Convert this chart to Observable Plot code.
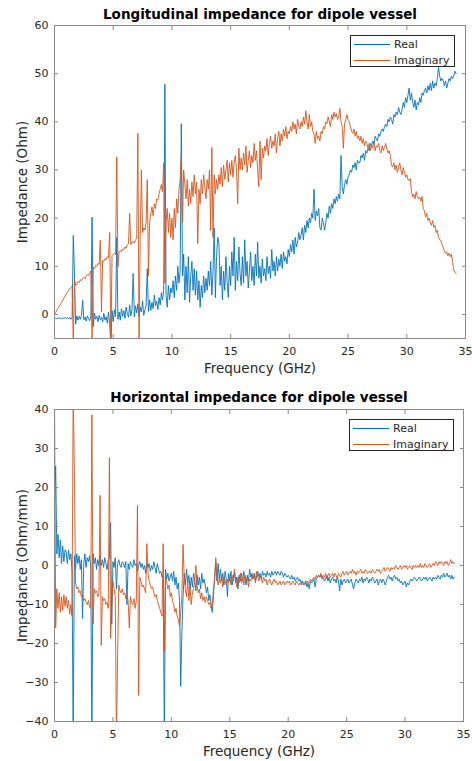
<!DOCTYPE html>
<html><head><meta charset="utf-8">
<script src="https://cdn.jsdelivr.net/npm/d3@7"></script>
<script src="https://cdn.jsdelivr.net/npm/@observablehq/plot@0.6"></script>
<style>
body{margin:0;background:#fff;font-family:"DejaVu Sans",sans-serif;}
.panel{position:relative;width:472px;}
.panel svg{display:block;}
.legend{position:absolute;border:1px solid #262626;background:#fff;box-sizing:border-box;width:105px;height:32px;font-size:11px;color:#262626;}
.legend .ln{position:absolute;left:3px;width:36px;height:1px;}
.legend .tx{position:absolute;left:43px;line-height:13px;white-space:nowrap;}
</style></head><body>
<div id="p1" class="panel"></div>
<div id="p2" class="panel"></div>
<script>
// Frequency grid (GHz)
const freq = [
0,0.1,0.2,0.3,0.4,0.5,0.6,0.7,0.8,0.9,
1,1.1,1.2,1.3,1.4,1.5,1.6,1.7,1.8,1.9,
2,2.1,2.2,2.3,2.4,2.5,2.6,2.7,2.8,2.9,
3,3.1,3.2,3.3,3.4,3.5,3.6,3.7,3.8,3.9,
4,4.1,4.2,4.3,4.4,4.5,4.6,4.7,4.8,4.9,
5,5.1,5.2,5.3,5.4,5.5,5.6,5.7,5.8,5.9,
6,6.1,6.2,6.3,6.4,6.5,6.6,6.7,6.8,6.9,
7,7.1,7.2,7.3,7.4,7.5,7.6,7.7,7.8,7.9,
8,8.1,8.2,8.3,8.4,8.5,8.6,8.7,8.8,8.9,
9,9.1,9.2,9.3,9.4,9.5,9.6,9.7,9.8,9.9,
10,10.1,10.2,10.3,10.4,10.5,10.6,10.7,10.8,10.9,
11,11.1,11.2,11.3,11.4,11.5,11.6,11.7,11.8,11.9,
12,12.1,12.2,12.3,12.4,12.5,12.6,12.7,12.8,12.9,
13,13.1,13.2,13.3,13.4,13.5,13.6,13.7,13.8,13.9,
14,14.1,14.2,14.3,14.4,14.5,14.6,14.7,14.8,14.9,
15,15.1,15.2,15.3,15.4,15.5,15.6,15.7,15.8,15.9,
16,16.1,16.2,16.3,16.4,16.5,16.6,16.7,16.8,16.9,
17,17.1,17.2,17.3,17.4,17.5,17.6,17.7,17.8,17.9,
18,18.1,18.2,18.3,18.4,18.5,18.6,18.7,18.8,18.9,
19,19.1,19.2,19.3,19.4,19.5,19.6,19.7,19.8,19.9,
20,20.1,20.2,20.3,20.4,20.5,20.6,20.7,20.8,20.9,
21,21.1,21.2,21.3,21.4,21.5,21.6,21.7,21.8,21.9,
22,22.1,22.2,22.3,22.4,22.5,22.6,22.7,22.8,22.9,
23,23.1,23.2,23.3,23.4,23.5,23.6,23.7,23.8,23.9,
24,24.1,24.2,24.3,24.4,24.5,24.6,24.7,24.8,24.9,
25,25.1,25.2,25.3,25.4,25.5,25.6,25.7,25.8,25.9,
26,26.1,26.2,26.3,26.4,26.5,26.6,26.7,26.8,26.9,
27,27.1,27.2,27.3,27.4,27.5,27.6,27.7,27.8,27.9,
28,28.1,28.2,28.3,28.4,28.5,28.6,28.7,28.8,28.9,
29,29.1,29.2,29.3,29.4,29.5,29.6,29.7,29.8,29.9,
30,30.1,30.2,30.3,30.4,30.5,30.6,30.7,30.8,30.9,
31,31.1,31.2,31.3,31.4,31.5,31.6,31.7,31.8,31.9,
32,32.1,32.2,32.3,32.4,32.5,32.6,32.7,32.8,32.9,
33,33.1,33.2,33.3,33.4,33.5,33.6,33.7,33.8,33.9,
34,34.1,34.2];

// Longitudinal impedance (Ohm)
const longReal = [
-0.8,-0.8,-0.9,-0.8,-0.7,-0.8,-0.9,-0.8,-0.8,-0.7,
-0.8,-0.7,-0.9,-0.6,-1.0,-0.6,16.4,8.5,-2.0,-0.3,
-1.2,-0.4,-1.0,-0.2,2.9,-1.1,-0.5,-1.4,-0.3,-0.9,
-1.3,-0.2,20.2,-2.5,0.3,-1.0,-0.4,-1.5,-0.2,-1.1,
-0.6,-1.6,0.2,-1.2,-0.5,-1.8,0.5,-2.0,-6.0,0.8,
-1.5,1.0,-0.5,16.0,-1.0,0.5,-1.2,1.2,-0.4,0.8,
-0.8,1.5,0.2,-0.6,2.0,-0.3,1.0,8.5,-0.5,1.8,
0.3,2.2,-0.4,1.5,0.5,2.8,-0.2,1.0,1.8,9.5,
0.6,3.0,0.8,2.5,1.2,4.0,1.8,2.8,1.0,3.5,
2.0,4.5,3.0,5.2,47.8,4.0,1.5,6.0,3.0,5.5,
4.5,7.0,3.5,8.0,5.0,10.0,6.5,9.0,39.6,8.0,
12.5,3.0,10.0,4.5,12.0,2.5,8.0,11.0,5.0,9.5,
4.0,9.0,3.0,7.0,1.5,6.0,3.5,8.0,4.5,7.5,
5.0,9.0,6.0,11.0,4.0,9.0,18.0,3.5,12.0,16.0,
15.0,6.0,10.0,3.0,9.0,5.0,12.0,7.0,3.5,10.0,
6.0,13.0,8.0,16.0,5.0,11.0,7.0,14.0,8.5,6.0,
12.0,6.5,15.5,8.0,11.0,5.5,9.0,13.0,7.0,10.0,
6.0,12.5,8.0,15.0,7.5,10.0,6.5,11.5,8.0,9.5,
7.0,12.0,8.5,10.0,7.5,13.5,9.0,11.0,8.0,12.0,
9.0,11.5,10.0,12.5,9.5,13.0,11.0,12.0,10.5,13.5,
12.0,14.5,13.0,15.5,12.5,16.0,14.0,15.0,17.0,15.5,
16.5,18.0,15.5,18.5,17.0,19.5,18.0,20.0,19.0,21.0,
20.0,26.0,19.5,21.5,20.5,22.0,18.0,17.5,20.0,19.0,
17.5,19.0,21.0,20.0,22.5,21.0,23.0,22.0,24.0,23.0,
24.5,23.5,25.0,24.0,33.0,26.5,25.0,27.0,28.0,27.0,
28.5,29.0,30.0,29.5,31.0,30.5,31.5,30.0,32.0,31.5,
31.5,33.0,32.5,33.5,32.0,34.0,33.5,34.5,34.0,35.5,
35.0,36.0,35.5,37.0,36.5,36.0,37.5,37.0,38.0,38.5,
38.0,39.0,39.5,39.0,40.5,40.0,41.0,40.5,39.5,41.5,
41.0,42.0,41.5,43.0,42.0,41.5,42.5,44.0,43.0,45.0,
44.0,45.5,47.0,44.5,46.0,44.0,43.0,44.5,42.5,44.0,
43.5,45.0,44.0,46.0,45.5,46.5,47.0,46.0,47.5,46.5,
48.0,46.5,48.5,47.0,48.0,47.5,49.0,51.3,49.5,48.5,
49.0,48.5,47.5,48.5,47.0,48.0,49.0,48.5,49.5,49.0,
49.5,50.5,50.0];

const longImag = [
0.0,0.4,0.9,1.3,1.7,2.1,2.5,3.0,3.4,3.8,
4.2,4.6,5.0,5.3,5.6,5.8,-6.0,7.2,6.0,6.4,
6.8,6.6,7.2,7.0,7.5,7.7,7.4,8.0,8.3,8.1,
8.7,9.0,-6.0,9.8,9.5,10.2,10.0,10.6,10.4,15.4,
0.5,11.2,11.0,11.6,11.4,12.0,11.8,17.0,-6.0,12.2,
12.5,12.7,12.4,32.7,9.8,13.0,13.3,13.0,13.6,13.4,
14.0,13.8,14.4,14.7,21.0,14.5,15.0,15.2,14.8,15.5,
15.8,37.6,-6.0,16.5,30.0,17.0,18.0,17.5,19.0,28.0,
8.0,19.0,21.0,22.3,20.5,23.0,22.0,24.0,23.7,25.0,
26.0,27.0,25.5,31.5,6.5,19.0,22.0,17.0,21.0,16.0,
20.0,15.5,22.0,18.0,24.0,21.0,26.0,28.0,33.0,19.0,
30.0,27.0,24.0,28.0,22.5,26.0,23.0,27.5,24.5,29.0,
25.0,27.5,14.7,26.0,23.0,28.0,25.0,29.0,26.5,24.0,
28.0,26.0,30.0,17.4,34.7,16.0,29.0,25.0,28.0,26.0,
29.0,27.0,30.5,26.5,31.0,28.0,30.0,32.0,27.5,31.5,
29.0,32.0,28.5,31.5,33.0,30.0,23.0,34.5,30.0,32.5,
30.0,33.5,31.0,35.0,29.5,32.0,34.0,30.5,33.0,31.5,
35.5,32.0,34.0,30.0,26.5,36.0,28.0,34.5,32.5,35.0,
34.0,36.5,33.0,35.5,37.0,34.5,36.0,35.0,37.5,33.5,
36.5,38.0,35.0,37.5,36.0,38.5,37.0,39.0,36.5,38.0,
37.5,39.0,38.0,40.0,38.5,39.5,37.5,40.5,39.0,38.5,
40.0,39.0,41.0,39.5,42.3,40.0,38.5,41.5,39.0,40.0,
38.0,37.5,35.5,38.0,36.5,37.0,36.0,38.0,37.5,39.0,
38.5,40.0,39.6,41.0,40.0,39.0,41.5,40.5,42.0,41.0,
41.7,40.5,41.0,42.8,40.0,39.0,34.5,39.5,40.5,41.5,
40.3,40.0,39.0,38.0,37.6,38.5,37.0,38.0,36.5,37.0,
36.0,37.0,35.5,36.5,35.0,36.0,35.5,34.5,35.5,34.0,
35.0,34.5,36.0,34.0,35.0,34.7,35.5,34.0,33.5,35.0,
34.0,34.7,35.5,34.5,33.5,34.0,33.0,31.0,30.6,31.5,
30.0,31.0,29.5,30.5,31.5,30.0,29.0,30.5,29.5,28.5,
29.0,28.0,27.8,28.2,25.5,24.4,25.0,24.0,25.5,24.5,
24.0,24.4,23.5,24.5,22.0,21.5,20.2,21.0,19.5,20.0,
19.0,18.5,19.5,18.1,18.5,17.0,17.5,16.0,15.5,15.4,
14.5,14.0,13.2,12.7,13.0,12.2,12.7,12.0,12.5,11.0,
9.1,8.8,8.5];

// Horizontal impedance (Ohm/mm)
const horzReal = [
15.0,25.5,3.0,8.0,2.0,6.5,0.5,5.0,1.0,4.0,
3.5,0.5,4.0,1.5,3.0,-1.5,-45,2.5,-1.0,3.0,
0.5,2.5,-1.0,1.5,-13.6,0.0,3.0,-0.5,2.0,1.0,
2.5,-0.5,-45,3.0,0.5,2.0,-1.0,1.5,0.0,2.5,
0.0,1.5,-0.5,2.0,0.5,-1.0,1.5,2.0,11.0,-15.0,
1.0,-0.5,2.0,-6.0,0.5,1.5,0.0,-0.5,1.0,0.5,
-0.5,1.0,-10.0,0.5,-1.0,1.0,0.0,-0.5,1.5,0.0,
0.5,-1.5,0.0,1.0,-0.5,0.5,-1.0,0.0,-2.0,0.5,
-0.5,0.5,-1.5,0.0,-1.0,1.0,-0.5,-2.0,0.5,-1.0,
-2.0,-1.5,-3.0,-2.5,-45,-1.0,-3.5,-2.0,-4.0,-3.0,
-2.0,-4.0,-1.5,-5.0,-3.0,-6.0,-4.5,-9.0,-31.0,-17.0,
-8.0,-2.0,-5.0,-1.0,-4.5,-2.5,-6.0,-3.0,-5.5,-2.0,
-4.0,-6.5,-2.5,-5.0,-3.0,-6.0,-2.0,-4.5,-3.5,-5.0,
-7.0,-5.5,-9.0,-7.5,-10.0,-12.0,-8.0,-3.0,1.0,-4.0,
0.5,-3.5,-1.0,-4.0,-2.0,-5.0,-1.5,-3.5,-8.0,-2.0,
-4.0,-1.5,-5.0,-3.0,-2.0,-4.5,-3.0,-6.0,-2.5,-4.0,
-2.0,-4.0,-1.5,-3.5,-5.0,-2.5,-4.0,-1.0,-3.0,-2.0,
-3.5,-2.0,-4.0,-2.5,-1.5,-3.0,-2.0,-3.5,-1.5,-2.5,
-2.0,-3.0,-1.5,-2.5,-2.0,-3.0,-1.5,-2.5,-2.0,-1.5,
-2.5,-1.5,-2.0,-2.5,-1.5,-2.0,-3.0,-2.0,-2.5,-3.0,
-2.5,-3.0,-3.5,-2.5,-3.5,-3.0,-4.0,-3.5,-3.0,-4.0,
-3.5,-4.5,-4.0,-5.0,-4.5,-4.0,-5.5,-4.5,-6.0,-4.0,
-4.5,-4.0,-3.5,-5.5,-3.5,-3.0,-2.5,-3.0,-2.5,-3.5,
-3.0,-4.0,-3.5,-2.5,-4.0,-3.0,-4.5,-3.5,-3.0,-4.0,
-3.5,-4.5,-3.0,-4.0,-6.5,-3.5,-5.0,-4.0,-3.5,-4.5,
-4.0,-3.5,-4.5,-4.0,-3.5,-5.0,-6.0,-4.5,-3.5,-4.0,
-4.5,-3.5,-4.0,-3.0,-4.5,-3.5,-4.0,-3.0,-3.5,-4.5,
-3.5,-4.0,-3.0,-3.5,-4.5,-4.0,-3.5,-5.0,-4.0,-3.5,
-4.5,-3.5,-4.0,-5.0,-4.0,-3.0,-2.5,-3.5,-3.0,-4.0,
-3.0,-2.5,-3.5,-3.0,-4.0,-3.5,-4.5,-4.0,-5.0,-4.5,
-4.0,-5.5,-4.5,-5.0,-4.0,-3.5,-4.0,-3.5,-3.0,-3.5,
-4.0,-3.5,-3.0,-3.5,-4.0,-3.5,-3.0,-3.5,-3.0,-4.0,
-3.5,-3.0,-3.5,-4.0,-3.0,-3.5,-3.0,-3.5,-2.5,-3.0,
-3.5,-2.5,-3.0,-2.0,-3.0,-2.5,-2.0,-3.0,-2.5,-3.5,
-2.5,-3.5,-3.0];

const horzImag = [
45,-16.0,-6.0,-11.0,-7.0,-12.0,-8.0,-11.5,-7.5,-10.5,
-8.0,-11.0,-9.0,-12.5,-10.0,-13.0,45,24.0,-4.5,-6.0,
-5.5,-7.0,-6.5,-8.0,-7.5,-9.0,-8.5,-9.5,-10.0,-9.0,
-10.5,-11.0,38.6,-15.0,-6.0,-7.0,-6.5,-8.0,-7.5,18.0,
-20.5,-8.0,-9.0,-8.5,-10.0,-9.5,-11.0,27.7,-18.7,-10.0,
-4.0,-6.0,-8.0,-45,-23.0,-5.0,-6.5,-7.0,-6.0,-7.5,
-7.0,-8.5,-7.5,-9.0,-16.0,-8.0,-9.5,-10.0,-8.5,-11.0,
-9.0,15.4,-33.3,-3.0,-4.0,-5.5,-5.0,-6.0,-7.0,5.6,
-2.0,-4.0,-5.0,-6.0,-5.5,-7.0,-8.0,-7.5,-9.0,-10.0,
-11.0,-12.0,-13.0,5.6,-22.0,-3.0,-4.0,-6.0,-5.0,-8.0,
-7.0,-9.0,-10.0,-12.0,-11.0,-13.0,-14.0,-15.5,-12.0,-8.0,
5.4,-3.0,-6.0,-8.0,-4.0,-9.0,-5.5,-10.0,-7.0,-6.0,
-4.0,0.0,-5.0,-7.0,-6.0,-8.5,-7.0,-9.0,-8.0,-9.5,
-8.0,-9.0,-10.0,-9.5,-11.0,-10.0,-6.0,-4.0,2.0,-3.0,
-5.0,-3.5,-4.5,-2.5,-5.5,-3.0,-4.0,-5.0,-3.5,-4.5,
-3.0,-5.0,-2.5,-4.0,-1.0,-3.5,-5.5,-3.0,-4.5,-2.0,
-4.5,-3.0,-5.0,-2.5,-4.0,-3.0,-5.5,-3.5,-4.0,-2.5,
-3.5,-2.0,-4.5,-1.5,-3.0,-4.0,-2.5,-3.5,-4.5,-3.0,
-4.0,-3.5,-5.0,-4.0,-3.5,-4.5,-5.0,-4.0,-3.5,-4.5,
-4.0,-5.0,-4.5,-4.0,-5.0,-4.5,-4.0,-5.0,-4.5,-4.0,
-4.5,-4.0,-5.0,-4.5,-4.0,-4.5,-5.0,-4.0,-4.5,-5.0,
-4.5,-5.0,-4.0,-4.5,-5.0,-4.5,-4.0,-4.5,-4.0,-3.5,
-4.0,-3.5,-3.0,-3.5,-2.5,-3.0,-2.5,-3.0,-2.0,-3.0,
-2.5,-3.0,-2.0,-3.5,-2.5,-2.0,-3.0,-2.5,-2.0,-3.0,
-2.0,-2.5,-3.5,-2.0,-2.5,-3.0,-2.0,-1.5,-2.5,-2.0,
-1.5,-2.5,-2.0,-1.5,-2.0,-1.0,-2.0,-1.5,-2.5,-1.5,
-2.0,-1.5,-1.0,-2.0,-1.5,-2.0,-1.0,-1.5,-2.0,-1.5,
-1.5,-2.0,-1.0,-1.5,-2.0,-1.5,-1.0,-1.5,-1.0,-2.0,
-1.5,-1.0,-0.5,-1.5,-1.0,-0.5,-1.0,-1.5,-0.5,-1.0,
-0.5,-1.0,0.0,-0.5,-1.0,-0.5,0.0,-1.0,-0.5,0.0,
-0.5,0.0,-1.0,-0.5,0.0,-0.5,-1.0,0.0,-0.5,0.0,
-0.5,0.0,-0.5,0.5,-0.5,0.0,-0.5,0.5,0.0,-0.5,
0.0,0.5,-0.5,0.0,0.5,0.0,1.0,0.5,0.0,1.0,
0.5,1.0,0.5,0.0,1.0,0.5,1.0,0.0,0.5,1.5,
0.5,1.0,0.5];

const xTicks = [0, 5, 10, 15, 20, 25, 30, 35];
const longTicks = [0, 10, 20, 30, 40, 50, 60];
const horzTicks = [-40, -30, -20, -10, 0, 10, 20, 30, 40];
const seriesNames = ["Real", "Imaginary"];
const seriesColors = ["#0072BD", "#D95319"];

const AX = "#8a8a8a", TX = "#262626";

function panel({title, ylabel, yDomain, yTicks, real, imag, height, mt, mb, mr, titleDy}) {
  const rows = freq.map((f, i) => ({f, re: real[i], im: imag[i]}));
  return Plot.plot({
    width: 472, height,
    marginLeft: 54, marginRight: mr, marginTop: mt, marginBottom: mb,
    style: {fontFamily: "'DejaVu Sans', sans-serif", fontSize: "11px", color: TX, background: "#fff", overflow: "visible"},
    x: {domain: [0, 35]},
    y: {domain: yDomain},
    marks: [
      Plot.line(rows, {x: "f", y: "re", stroke: seriesColors[0], strokeWidth: 0.9, clip: true}),
      Plot.line(rows, {x: "f", y: "im", stroke: seriesColors[1], strokeWidth: 0.9, clip: true}),
      Plot.frame({stroke: AX}),
      Plot.axisX(xTicks, {anchor: "bottom", tickSize: -4, tickPadding: 13, stroke: AX, fill: TX, label: null}),
      Plot.axisX(xTicks, {anchor: "top", tickSize: -4, fill: "none", stroke: AX, label: null}),
      Plot.axisY(yTicks, {anchor: "left", tickSize: -4, tickPadding: 10, stroke: AX, fill: TX, label: null}),
      Plot.axisY(yTicks, {anchor: "right", tickSize: -4, fill: "none", stroke: AX, label: null}),
      Plot.text([title], {text: d => d, frameAnchor: "top", lineAnchor: "middle", textAnchor: "middle", dy: titleDy, fontWeight: "bold", fontSize: 13.5, fill: "#000"}),
      Plot.text(["Frequency (GHz)"], {text: d => d, frameAnchor: "bottom", lineAnchor: "middle", textAnchor: "middle", dy: 30, fontSize: 13.5, fill: TX}),
      Plot.text([ylabel], {text: d => d, frameAnchor: "left", lineAnchor: "middle", textAnchor: "middle", dx: -32, rotate: -90, fontSize: 13.5, fill: TX})
    ]
  });
}

function legend(top, left) {
  const box = document.createElement("div");
  box.className = "legend";
  box.style.top = top + "px";
  box.style.left = left + "px";
  seriesNames.forEach((name, i) => {
    const ln = document.createElement("div");
    ln.className = "ln";
    ln.style.top = (8 + i * 15.5) + "px";
    ln.style.background = seriesColors[i];
    const tx = document.createElement("div");
    tx.className = "tx";
    tx.style.top = (2 + i * 15.5) + "px";
    tx.textContent = name;
    box.append(ln, tx);
  });
  return box;
}

const p1 = document.getElementById("p1");
p1.append(panel({title: "Longitudinal impedance for dipole vessel", ylabel: "Impedance (Ohm)",
  yDomain: [-5, 60], yTicks: longTicks, real: longReal, imag: longImag,
  height: 380, mt: 25, mb: 42, mr: 7, titleDy: -11}));
p1.append(legend(35, 350));

const p2 = document.getElementById("p2");
p2.append(panel({title: "Horizontal impedance for dipole vessel", ylabel: "Impedance (Ohm/mm)",
  yDomain: [-40, 40], yTicks: horzTicks, real: horzReal, imag: horzImag,
  height: 381, mt: 29, mb: 40, mr: 9, titleDy: -12}));
p2.append(legend(39, 349));
</script>
</body></html>
